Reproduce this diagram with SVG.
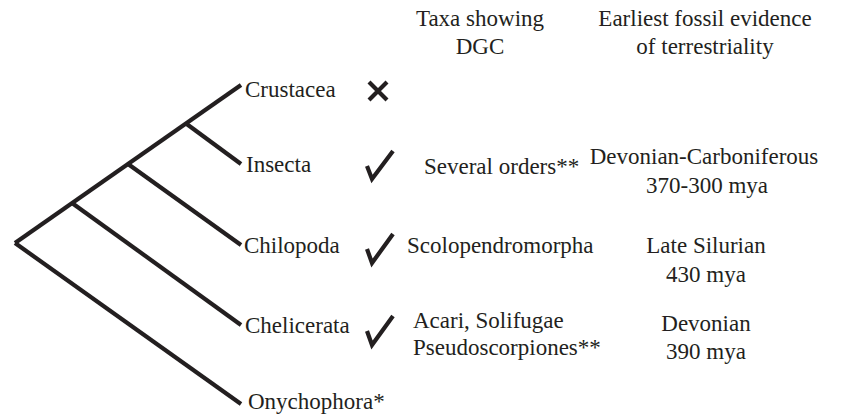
<svg xmlns="http://www.w3.org/2000/svg" width="842" height="414" viewBox="0 0 842 414">
<style>
text{font-family:'Liberation Serif','Tinos','Times New Roman','DejaVu Serif',serif;font-size:23px;fill:#231f20}
.m{text-anchor:middle}
.br{fill:none;stroke:#231f20;stroke-width:4.2;stroke-linecap:butt}
.mk{fill:none;stroke:#231f20;stroke-width:4.2;stroke-linejoin:miter;stroke-linecap:butt}
</style>
<rect width="842" height="414" fill="#ffffff"/>
<g id="headers" font-family="Liberation Serif, serif">
<text class="m" x="480" y="26">Taxa showing</text>
<text class="m" x="480" y="54">DGC</text>
<text class="m" x="705" y="26">Earliest fossil evidence</text>
<text class="m" x="705" y="54">of terrestriality</text>
</g>
<g id="connectors">
<line class="br" x1="15" y1="243" x2="241" y2="85"/>
<line class="br" x1="186" y1="123.5" x2="241" y2="164"/>
<line class="br" x1="128" y1="164" x2="241" y2="245"/>
<line class="br" x1="72" y1="203" x2="241" y2="325"/>
<line class="br" x1="15" y1="243" x2="241" y2="404"/>
</g>
<g id="crustacea">
<text x="245" y="97">Crustacea</text>
<path class="mk" d="M369,82 L387,100 M387,82 L369,100"/>
</g>
<g id="insecta">
<text x="246" y="172">Insecta</text>
<path class="mk" d="M367,166 L372,179 L393,151"/>
<text x="424" y="174">Several orders**</text>
<text class="m" x="704" y="164">Devonian-Carboniferous</text>
<text class="m" x="707" y="193">370-300 mya</text>
</g>
<g id="chilopoda">
<text x="244" y="253">Chilopoda</text>
<path class="mk" d="M367,249 L372,263 L393,234"/>
<text x="407" y="253">Scolopendromorpha</text>
<text class="m" x="706" y="253">Late Silurian</text>
<text class="m" x="706" y="282">430 mya</text>
</g>
<g id="chelicerata">
<text x="245" y="333">Chelicerata</text>
<path class="mk" d="M367,331 L372,345 L393,316"/>
<text x="413" y="328">Acari, Solifugae</text>
<text x="413" y="355">Pseudoscorpiones**</text>
<text class="m" x="706" y="331">Devonian</text>
<text class="m" x="706" y="359">390 mya</text>
</g>
<g id="onychophora">
<text x="248" y="409">Onychophora*</text>
</g>
</svg>
